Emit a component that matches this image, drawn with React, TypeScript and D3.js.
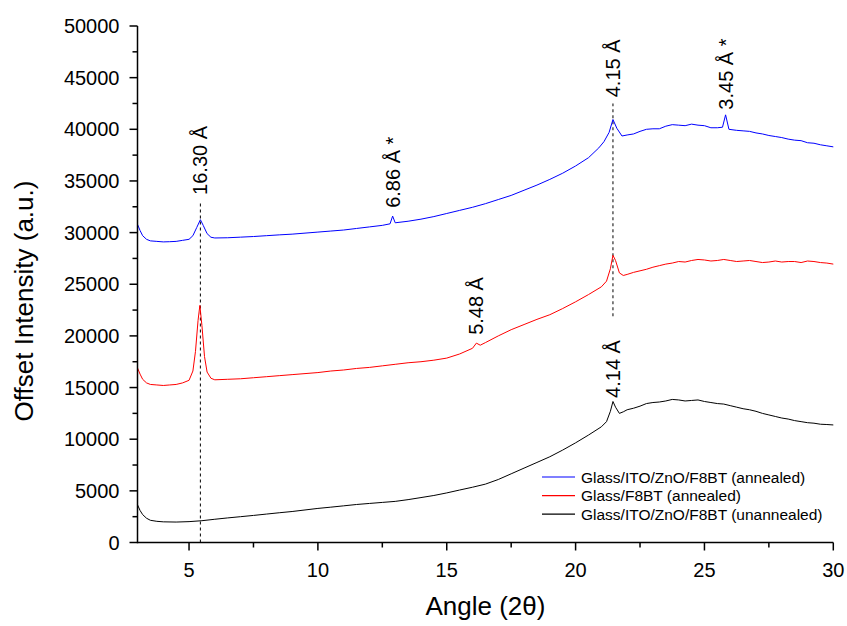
import React from 'react';
import * as d3 from 'd3';

// ---- Data ----
const blueAngles = [3.0,3.1,3.2,3.35,3.5,3.75,4.0,4.25,4.5,4.75,5.0,5.15,5.3,5.44,5.55,5.7,5.85,6.0,6.5,7.0,7.5,8.0,8.5,9.0,9.5,10.0,10.5,11.0,11.5,12.0,12.5,12.8,12.9,13.0,13.5,14.0,14.5,15.0,15.5,16.0,16.5,17.0,17.5,18.0,18.5,19.0,19.5,20.0,20.5,20.9,21.1,21.3,21.45,21.6,21.8,22.0,22.25,22.5,22.75,23.0,23.25,23.5,23.75,24.0,24.25,24.5,24.75,25.0,25.25,25.5,25.7,25.82,25.95,26.25,26.5,26.75,27.0,27.25,27.5,27.75,28.0,28.25,28.5,28.75,29.0,29.25,29.5,29.75,30.0];
const blueValues = [30800,30200,29700,29350,29200,29150,29100,29120,29150,29250,29350,29700,30500,31250,30700,29900,29550,29480,29500,29560,29620,29700,29780,29850,29950,30050,30150,30250,30400,30550,30700,30850,31600,30950,31100,31300,31550,31850,32150,32450,32800,33200,33600,34100,34600,35150,35750,36450,37250,38200,38800,39700,40950,40100,39350,39450,39550,39800,40000,40050,40050,40300,40450,40400,40350,40500,40400,40350,40150,40150,40200,41400,40000,39900,39850,39800,39650,39550,39400,39300,39200,39050,38950,38900,38700,38650,38500,38400,38300];

const redAngles = [3.0,3.1,3.2,3.35,3.5,3.75,4.0,4.25,4.5,4.75,5.0,5.15,5.25,5.35,5.42,5.5,5.6,5.7,5.85,6.0,6.5,7.0,7.5,8.0,8.5,9.0,9.5,10.0,10.5,11.0,11.5,12.0,12.5,13.0,13.5,14.0,14.5,15.0,15.5,16.0,16.15,16.3,16.5,17.0,17.5,18.0,18.5,19.0,19.5,20.0,20.5,21.0,21.2,21.35,21.45,21.55,21.7,21.85,22.0,22.25,22.5,22.75,23.0,23.25,23.5,23.75,24.0,24.25,24.5,24.75,25.0,25.25,25.5,25.75,26.0,26.25,26.5,26.75,27.0,27.25,27.5,27.75,28.0,28.25,28.5,28.75,29.0,29.25,29.5,29.75,30.0];
const redValues = [16900,16300,15800,15450,15300,15250,15200,15250,15300,15450,15700,16600,18500,21500,22950,21000,18000,16500,15900,15750,15800,15850,15950,16050,16150,16250,16350,16450,16600,16700,16850,16950,17100,17250,17400,17500,17650,17850,18250,18800,19300,19100,19350,20000,20600,21100,21600,22050,22650,23300,24000,24750,25300,26500,27800,27300,26100,25850,25950,26150,26300,26450,26650,26800,26950,27050,27200,27150,27300,27400,27350,27250,27300,27400,27300,27200,27250,27300,27200,27100,27150,27250,27150,27200,27200,27100,27250,27200,27100,27050,26950];

const blackAngles = [3.0,3.1,3.2,3.35,3.5,3.75,4.0,4.5,5.0,5.5,6.0,6.5,7.0,7.5,8.0,8.5,9.0,9.5,10.0,10.5,11.0,11.5,12.0,12.5,13.0,13.5,14.0,14.5,15.0,15.5,16.0,16.5,17.0,17.5,18.0,18.5,19.0,19.5,20.0,20.5,21.0,21.2,21.35,21.45,21.55,21.7,21.85,22.0,22.25,22.5,22.75,23.0,23.25,23.5,23.75,24.0,24.25,24.5,24.75,25.0,25.25,25.5,25.75,26.0,26.25,26.5,26.75,27.0,27.25,27.5,27.75,28.0,28.25,28.5,28.75,29.0,29.25,29.5,29.75,30.0];
const blackValues = [3650,3100,2700,2350,2150,2050,2000,1980,2020,2110,2250,2380,2500,2620,2750,2880,3000,3150,3300,3420,3550,3680,3780,3880,3980,4150,4350,4550,4800,5080,5350,5650,6100,6650,7200,7750,8300,8950,9650,10400,11200,11700,12700,13650,13100,12500,12650,12850,13000,13200,13450,13550,13600,13700,13850,13800,13700,13750,13800,13650,13550,13450,13400,13250,13100,12950,12850,12700,12500,12350,12200,12050,11950,11800,11700,11600,11550,11450,11420,11380];

const xTicks = [5, 10, 15, 20, 25, 30];
const xMinorTicks = [7.5, 12.5, 17.5, 22.5, 27.5];
const yTicks = [0, 5000, 10000, 15000, 20000, 25000, 30000, 35000, 40000, 45000, 50000];
const yMinorTicks = [2500, 7500, 12500, 17500, 22500, 27500, 32500, 37500, 42500, 47500];

const seriesNames = [
  'Glass/ITO/ZnO/F8BT (annealed)',
  'Glass/F8BT (annealed)',
  'Glass/ITO/ZnO/F8BT (unannealed)',
];
const seriesColors = ['#0000ff', '#ff0000', '#000000'];

// peak annotations: angle, label, baseline (value where text starts)
const peakAngles = [5.44, 12.9, 16.15, 21.45, 25.82, 21.45];
const peakLabels = ['16.30 Å', '6.86 Å *', '5.48 Å', '4.15 Å', '3.45 Å *', '4.14 Å'];
const peakLabelBase = [33650, 32400, 20100, 43100, 41900, 14000];

// dashed guide lines: angle, from value, to value
const guideAngles = [5.44, 21.45];
const guideFrom = [0, 21900];
const guideTo = [33000, 42500];

const W = 847, H = 626;
const x = d3.scaleLinear().domain([3, 30]).range([137.5, 833.3]);
const y = d3.scaleLinear().domain([0, 50000]).range([542.5, 26]);

const FONT = '"Liberation Sans", Arial, sans-serif';

export default function App() {
  const line = d3.line<[number, number]>().x(d => x(d[0])).y(d => y(d[1]));
  const series = [
    d3.zip(blueAngles, blueValues) as [number, number][],
    d3.zip(redAngles, redValues) as [number, number][],
    d3.zip(blackAngles, blackValues) as [number, number][],
  ];
  const x0 = x.range()[0], x1 = x.range()[1];
  const y0 = y.range()[0], y1 = y.range()[1];

  return (
    <svg width={W} height={H} style={{ position: 'absolute', left: 0, top: 0, background: '#fff' }} fontFamily={FONT}>
      <rect width={W} height={H} fill="#fff" />
      {/* guide lines */}
      {guideAngles.map((a, i) => (
        <line key={'g' + i} x1={x(a)} x2={x(a)} y1={y(guideFrom[i])} y2={y(guideTo[i])}
          stroke="#000" strokeWidth={1} strokeDasharray="3,3" />
      ))}
      {/* series */}
      {series.map((s, i) => (
        <path key={'s' + i} d={line(s) || ''} fill="none" stroke={seriesColors[i]} strokeWidth={1} />
      ))}
      {/* annotations */}
      {peakAngles.map((a, i) => (
        <text key={'p' + i} transform={`translate(${x(a) + 7},${y(peakLabelBase[i])}) rotate(-90)`}
          fontSize={20} fill="#000">{peakLabels[i]}</text>
      ))}
      {/* axes */}
      <line x1={x0} x2={x0} y1={y0 + 0.75} y2={y1} stroke="#000" strokeWidth={1.5} />
      <line x1={x0} x2={x1} y1={y0} y2={y0} stroke="#000" strokeWidth={1.5} />
      {yTicks.map(t => (
        <g key={'yt' + t}>
          <line x1={x0 - 8} x2={x0} y1={y(t)} y2={y(t)} stroke="#000" strokeWidth={1.5} />
          <text x={x0 - 18} y={y(t)} dy="0.35em" textAnchor="end" fontSize={20}>{t}</text>
        </g>
      ))}
      {yMinorTicks.map(t => (
        <line key={'ym' + t} x1={x0 - 5} x2={x0} y1={y(t)} y2={y(t)} stroke="#000" strokeWidth={1.5} />
      ))}
      {xTicks.map(t => (
        <g key={'xt' + t}>
          <line x1={x(t)} x2={x(t)} y1={y0} y2={y0 + 8} stroke="#000" strokeWidth={1.5} />
          <text x={x(t)} y={y0 + 34} textAnchor="middle" fontSize={20}>{t}</text>
        </g>
      ))}
      {xMinorTicks.map(t => (
        <line key={'xm' + t} x1={x(t)} x2={x(t)} y1={y0} y2={y0 + 5} stroke="#000" strokeWidth={1.5} />
      ))}
      {/* axis titles */}
      <text x={(x0 + x1) / 2 + 0} y={615} textAnchor="middle" fontSize={26}>Angle (2θ)</text>
      <text transform={`translate(33,301) rotate(-90)`} textAnchor="middle" fontSize={26}>Offset Intensity (a.u.)</text>
      {/* legend */}
      {seriesNames.map((n, i) => (
        <g key={'l' + i}>
          <line x1={542} x2={575} y1={477 + i * 18.6} y2={477 + i * 18.6} stroke={seriesColors[i]} strokeWidth={1.2} />
          <text x={581} y={477 + i * 18.6 + 5.5} fontSize={15.5}>{n}</text>
        </g>
      ))}
    </svg>
  );
}
